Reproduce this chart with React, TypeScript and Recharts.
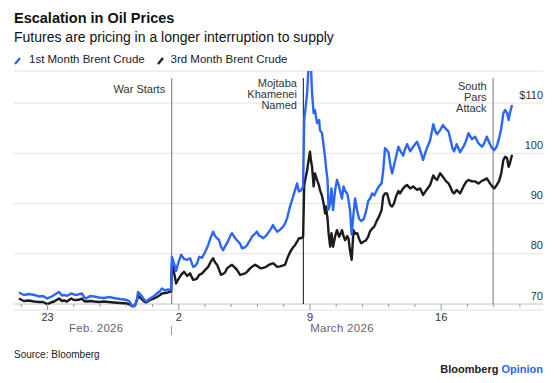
import React from 'react';
import { LineChart, Line, XAxis, YAxis, CartesianGrid, ReferenceLine } from 'recharts';

// time = trading days since Fri Feb 20 2026 (weekends skipped), fractions are intraday
const times = [
  -0.09, 0.1, 0.29, 0.49, 0.68, 0.83, 0.98, 1.13, 1.25, 1.44,
  1.55, 1.63, 1.74, 1.9, 2.01, 2.12, 2.24, 2.31, 2.39, 2.47,
  2.62, 2.77, 2.96, 3.15, 3.34, 3.53, 3.76, 4.03, 4.14, 4.22,
  4.33, 4.41, 4.45, 4.56, 4.68, 4.75, 4.91, 5.06, 5.17, 5.29,
  5.36, 5.48, 5.59, 5.71, 5.74, 5.82, 5.9, 5.97, 6.09, 6.2,
  6.32, 6.43, 6.55, 6.63, 6.7, 6.78, 6.89, 7.01, 7.12, 7.23,
  7.31, 7.38, 7.46, 7.54, 7.61, 7.69, 7.77, 7.84, 7.96, 8.03,
  8.11, 8.22, 8.34, 8.41, 8.53, 8.6, 8.72, 8.79, 8.91, 8.98,
  9.06, 9.14, 9.21, 9.33, 9.4, 9.52, 9.59, 9.67, 9.75, 9.86,
  9.98, 10.05, 10.13, 10.24, 10.36, 10.43, 10.51, 10.58, 10.66, 10.74,
  10.78, 10.81, 10.89, 10.95, 11.0, 11.04, 11.08, 11.14, 11.19, 11.27,
  11.35, 11.38, 11.46, 11.52, 11.58, 11.61, 11.67, 11.71, 11.77, 11.82,
  11.88, 11.96, 12.03, 12.11, 12.17, 12.22, 12.28, 12.34, 12.42, 12.47,
  12.53, 12.59, 12.66, 12.72, 12.8, 12.87, 12.95, 13.04, 13.14, 13.22,
  13.29, 13.37, 13.45, 13.56, 13.64, 13.73, 13.79, 13.86, 13.94, 14.0,
  14.05, 14.13, 14.2, 14.28, 14.37, 14.43, 14.55, 14.62, 14.7, 14.82,
  14.93, 15.08, 15.2, 15.31, 15.44, 15.58, 15.7, 15.77, 15.84, 15.96,
  16.07, 16.19, 16.28, 16.36, 16.43, 16.49, 16.59, 16.72, 16.85, 16.95,
  17.04, 17.17, 17.29, 17.42, 17.55, 17.64, 17.74, 17.86, 17.94, 18.02,
  18.12, 18.21, 18.29, 18.37, 18.44, 18.51, 18.57, 18.62, 18.7,
];

const brent1st = [
  72.3, 71.8, 72.0, 71.8, 71.5, 71.6, 71.1, 71.4, 71.8, 72.4,
  71.7, 71.8, 71.6, 72.1, 71.9, 71.8, 72.0, 72.1, 71.4, 71.1,
  71.6, 71.5, 71.3, 71.2, 71.4, 71.2, 71.0, 70.8, 70.4, 69.5,
  69.6, 71.0, 72.4, 71.8, 70.9, 70.5, 71.1, 71.6, 72.1, 72.6,
  73.1, 72.7, 72.9, 72.8, 79.4, 78.1, 76.6, 78.0, 79.8, 79.0,
  78.8, 79.1, 77.4, 77.6, 78.1, 79.4, 79.2, 80.4, 81.7, 83.4,
  84.4, 83.6, 83.1, 82.7, 81.4, 80.7, 81.5, 82.1, 83.5, 84.1,
  83.4, 82.7, 82.0, 81.1, 81.3, 81.7, 82.7, 83.4, 84.0, 84.4,
  83.6, 83.4, 83.1, 83.6, 84.1, 85.0, 85.7, 85.0, 84.4, 84.8,
  85.4, 86.0, 87.1, 89.4, 91.4, 92.6, 94.0, 92.4, 92.6, 93.4,
  106.6, 108.0, 111.9, 117.5, 118.6, 117.0, 111.9, 108.0, 108.6, 106.0,
  106.6, 104.6, 104.0, 101.5, 99.0, 97.3, 94.7, 88.8, 90.0, 93.0,
  88.7, 92.7, 94.7, 93.4, 92.0, 91.0, 93.4, 92.5, 92.0, 90.7,
  88.5, 83.8, 88.0, 91.0, 88.5, 87.0, 86.5, 86.8, 88.5, 90.5,
  91.0, 92.0, 91.6, 92.8, 93.5, 94.0, 96.5, 101.0, 100.6, 100.0,
  98.0, 96.0, 97.5, 99.3, 101.3, 100.6, 99.5, 100.8, 101.8, 100.4,
  101.3, 102.3, 100.6, 98.7, 100.8, 102.6, 105.8, 104.5, 103.8, 104.6,
  105.6, 104.8, 104.3, 102.6, 101.0, 100.4, 101.8, 100.2, 101.3, 102.5,
  104.0, 102.8, 103.3, 102.0, 101.3, 102.0, 103.3, 101.8, 101.0, 100.6,
  101.4, 103.0, 105.0, 108.0, 108.6, 108.0, 106.6, 108.0, 109.6,
];

const brent3rd = [
  71.1, 70.6, 70.7, 70.5, 70.4, 70.4, 70.0, 70.3, 70.5, 71.1,
  70.6, 70.7, 70.5, 71.1, 70.8, 70.8, 70.9, 71.1, 70.6, 70.5,
  70.6, 70.5, 70.4, 70.5, 70.4, 70.3, 70.2, 70.1, 69.9, 69.6,
  69.7, 70.8, 71.7, 71.1, 70.5, 70.3, 70.8, 71.1, 71.4, 71.8,
  72.1, 72.2, 72.3, 72.5, 78.0, 76.3, 74.1, 74.8, 75.8, 76.4,
  75.6, 76.1, 74.8, 74.9, 75.1, 75.8, 76.1, 76.8, 77.4, 78.5,
  79.1, 78.3, 77.8, 76.8, 75.8, 76.0, 76.3, 77.1, 77.6, 77.8,
  77.4, 76.8, 75.8, 75.9, 76.1, 76.4, 77.1, 77.4, 77.8, 77.6,
  77.3, 77.1, 77.2, 77.4, 77.7, 78.0, 78.1, 77.8, 77.4, 77.5,
  77.7, 77.8, 79.0, 80.3, 81.3, 81.7, 82.4, 83.1, 83.1, 83.4,
  93.4, 94.5, 96.5, 98.7, 100.3, 98.5, 97.3, 93.4, 96.0, 94.7,
  93.5, 92.7, 91.5, 90.0, 88.0, 89.4, 87.0, 84.1, 81.4, 84.1,
  81.4, 83.5, 84.7, 83.4, 84.0, 84.7, 83.5, 82.7, 83.5, 83.0,
  80.5, 78.8, 84.7, 84.0, 84.1, 83.0, 82.1, 82.4, 82.7, 83.4,
  84.5, 85.0, 85.4, 86.7, 87.5, 88.7, 91.4, 92.0, 92.0, 90.8,
  89.8, 89.4, 90.0, 91.4, 92.5, 92.0, 93.0, 93.4, 93.7, 93.0,
  93.4, 92.7, 93.0, 91.7, 92.7, 93.7, 95.6, 95.0, 94.7, 96.0,
  95.3, 94.4, 94.0, 93.2, 92.3, 92.0, 92.7, 92.0, 93.4, 94.3,
  94.7, 94.4, 94.4, 94.0, 94.5, 94.7, 95.0, 94.0, 93.4, 93.0,
  93.7, 94.5, 96.0, 98.7, 99.3, 99.0, 97.3, 98.0, 99.7,
];

// one tick per trading day, labels on Mondays
const dayTicks = [0, 1, 2, 3, 4, 5, 6, 7, 8, 9, 10, 11, 12, 13, 14, 15, 16, 17, 18, 19];
const dayLabels: Record<number, string> = { 1: '23', 6: '2', 11: '9', 16: '16' };
const priceTicks = [70, 80, 90, 100, 110];

const events = [
  { t: 5.73, lines: ['War Starts'], dy: 15, color: '#8a8a8a' },
  { t: 10.75, lines: ['Mojtaba', 'Khamenei', 'Named'], dy: 9, color: '#3a3a3a' },
  { t: 17.98, lines: ['South', 'Pars', 'Attack'], dy: 12, color: '#8a8a8a' },
];

const BLUE = '#2b67f6';
const BLACK = '#1c1c1c';
const FONT = '"Liberation Sans", Arial, sans-serif';

const data = times.map((t, i) => ({ t, first: brent1st[i], third: brent3rd[i] }));

const DayTick = (props: any) => {
  const { x, y, payload } = props;
  const label = dayLabels[payload.value];
  const top = y - 6;
  return (
    <g>
      <line x1={x} x2={x} y1={top} y2={label ? top + 6 : top + 3} stroke="#9a9a9a" strokeWidth={1} />
      {label && (
        <text x={x} y={top + 16.5} textAnchor="middle" fontSize={11} fill="#333" fontFamily={FONT}>
          {label}
        </text>
      )}
    </g>
  );
};

const PriceTick = (props: any) => {
  const { x, y, payload } = props;
  return (
    <text x={x} y={y - 4.5} textAnchor="end" fontSize={11} fill="#333" fontFamily={FONT}>
      {payload.value === 110 ? '$110' : payload.value}
    </text>
  );
};

const EventLabel = ({ viewBox, lines, dy }: any) => {
  const { x, y } = viewBox;
  return (
    <text textAnchor="end" fontSize={11} fill="#333" fontFamily={FONT}>
      {lines.map((l: string, i: number) => (
        <tspan key={l} x={x - 6.5} y={y + dy + i * 11}>
          {l}
        </tspan>
      ))}
    </text>
  );
};

const LegendMark = ({ color }: { color: string }) => (
  <svg width={7} height={8} style={{ display: 'block' }}>
    <line x1={1} y1={7} x2={6} y2={1} stroke={color} strokeWidth={2.2} />
  </svg>
);

export default function App() {
  return (
    <div style={{ position: 'absolute', left: 0, top: 0, width: 554, height: 383, background: '#fff', fontFamily: FONT, color: '#111' }}>
      <div style={{ position: 'absolute', left: 14, top: 11, fontSize: 14.5, fontWeight: 700, lineHeight: 1 }}>
        Escalation in Oil Prices
      </div>
      <div style={{ position: 'absolute', left: 14, top: 30, fontSize: 14, lineHeight: 1 }}>
        Futures are pricing in a longer interruption to supply
      </div>

      <div style={{ position: 'absolute', left: 14, top: 57 }}><LegendMark color={BLUE} /></div>
      <div style={{ position: 'absolute', left: 29, top: 54.3, fontSize: 11.5, lineHeight: 1, color: '#222' }}>1st Month Brent Crude</div>
      <div style={{ position: 'absolute', left: 156.5, top: 57 }}><LegendMark color={BLACK} /></div>
      <div style={{ position: 'absolute', left: 170.5, top: 54.3, fontSize: 11.5, lineHeight: 1, color: '#222' }}>3rd Month Brent Crude</div>

      <div style={{ position: 'absolute', left: 0, top: 0 }}>
        <LineChart width={554} height={383} data={data} margin={{ top: 71, right: 0, bottom: 53, left: 14 }}>
          <CartesianGrid vertical={false} stroke="#e2e2e2" strokeWidth={1} />
          <XAxis
            dataKey="t"
            type="number"
            domain={[-0.277, 19.88]}
            ticks={dayTicks}
            interval={0}
            axisLine={false}
            tickLine={false}
            tickSize={0}
            tickMargin={0}
            height={20}
            tick={<DayTick />}
          />
          <YAxis
            orientation="right"
            type="number"
            domain={[68.81, 116.37]}
            allowDataOverflow
            ticks={priceTicks}
            interval={0}
            axisLine={false}
            tickLine={false}
            tickSize={0}
            tickMargin={0}
            width={11}
            tick={<PriceTick />}
          />
          <ReferenceLine y={70} stroke="#cfcfcf" strokeWidth={1} />
          {events.map((ev) => (
            <ReferenceLine
              key={ev.t}
              segment={[{ x: ev.t, y: 70 }, { x: ev.t, y: 115 }]}
              stroke={ev.color}
              strokeWidth={1.2}
              label={(p: any) => <EventLabel {...p} lines={ev.lines} dy={ev.dy} />}
            />
          ))}
          <Line type="linear" dataKey="third" stroke={BLACK} strokeWidth={2.4} strokeLinejoin="round" dot={false} isAnimationActive={false} />
          <Line type="linear" dataKey="first" stroke={BLUE} strokeWidth={2.4} strokeLinejoin="round" dot={false} isAnimationActive={false} />
        </LineChart>
      </div>

      <div style={{ position: 'absolute', left: 69, top: 323.3, width: 53, textAlign: 'center', fontSize: 11.5, lineHeight: 1, color: '#666', letterSpacing: 0.3, whiteSpace: 'nowrap' }}>
        Feb. 2026
      </div>
      <div style={{ position: 'absolute', left: 171, top: 325.7, width: 1, height: 9.5, background: '#999' }} />
      <div style={{ position: 'absolute', left: 309, top: 323.3, width: 66, textAlign: 'center', fontSize: 11.5, lineHeight: 1, color: '#666', letterSpacing: 0.3, whiteSpace: 'nowrap' }}>
        March 2026
      </div>

      <div style={{ position: 'absolute', left: 14, top: 350, fontSize: 10, lineHeight: 1, color: '#222' }}>Source: Bloomberg</div>
      <div style={{ position: 'absolute', right: 11, top: 364, fontSize: 11, fontWeight: 700, lineHeight: 1, color: '#222' }}>
        Bloomberg <span style={{ color: BLUE }}>Opinion</span>
      </div>
    </div>
  );
}
